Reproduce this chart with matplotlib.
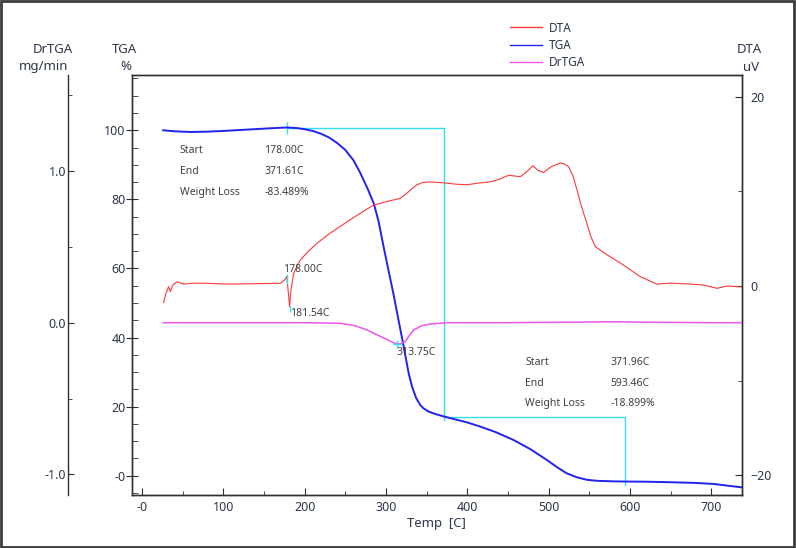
import matplotlib
matplotlib.use('Agg')
import matplotlib.pyplot as plt
from matplotlib.patches import Rectangle

plt.rcParams['font.family'] = ['Noto Sans', 'DejaVu Sans']

# TGA curve (%)
tga_temp = [26, 40, 60, 80, 100, 130, 160, 178, 190, 200, 210, 220, 230, 240, 250, 260, 268,
            277, 285, 291, 297, 303, 309, 315, 320, 324, 328, 332, 337, 342, 346, 352, 360,
            371.6, 385, 400, 416, 435, 457, 478, 498, 510, 522, 535, 547, 560, 580, 594, 620,
            650, 680, 703, 720, 738]
tga_val = [100.0, 99.7, 99.5, 99.6, 99.8, 100.2, 100.6, 100.8, 100.65, 100.3, 99.8, 99.0,
           97.9, 96.3, 94.3, 91.3, 87.8, 83.3, 78.8, 73.5, 66.3, 59.5, 52.8, 45.5, 39.5, 34.5,
           29.5, 25.8, 22.5, 20.5, 19.5, 18.6, 17.9, 17.1, 16.3, 15.4, 14.2, 12.6, 10.3, 7.6,
           4.5, 2.5, 0.7, -0.5, -1.2, -1.5, -1.65, -1.7, -1.75, -1.9, -2.1, -2.4, -2.9, -3.4]

# DTA curve (uV)
dta_temp = [26.6, 29, 32.7, 34.8, 38, 43, 51, 65, 80, 100, 121, 145, 170, 175, 178, 180, 181.5,
            183, 186.4, 190, 194.6, 205, 215, 230, 243.8, 265, 284.8, 300, 317.6, 325.8, 332,
            338, 346, 354.5, 370.8, 387, 399.6, 416, 428, 440, 450.8, 465, 472, 480.7, 487,
            493.8, 503, 514.3, 519, 524.6, 530, 534.8, 540, 547, 552, 557.4, 571.7, 592,
            612.7, 633, 650, 674, 690, 707, 720, 735.6]
dta_val = [-1.76, -0.9, -0.07, -0.6, 0.1, 0.45, 0.2, 0.3, 0.28, 0.2, 0.21, 0.25, 0.28, 0.6,
           1.0, -0.8, -2.2, -0.5, 1.3, 2.0, 2.75, 3.7, 4.5, 5.5, 6.3, 7.5, 8.56, 8.9, 9.27,
           9.8, 10.3, 10.7, 10.95, 11.0, 10.9, 10.75, 10.7, 10.9, 11.0, 11.3, 11.7, 11.55,
           12.0, 12.7, 12.2, 12.0, 12.6, 13.0, 12.9, 12.6, 11.6, 10.15, 8.5, 6.6, 5.2, 4.15,
           3.3, 2.2, 0.98, 0.2, 0.3, 0.2, 0.1, -0.25, 0.0, -0.1]

# DrTGA curve (mg/min)
dr_temp = [26, 100, 200, 244, 262, 276.7, 293, 301, 308, 313.75, 318, 323.7, 328, 334, 344,
           354.5, 375, 450, 520, 580, 620, 700, 738]
dr_val = [0.0, 0.0, 0.0, -0.004, -0.02, -0.048, -0.09, -0.11, -0.13, -0.14, -0.138, -0.125,
          -0.09, -0.048, -0.02, -0.009, 0.0, 0.0, 0.003, 0.006, 0.003, 0.0, 0.0]

# weight loss steps
step1_temp = [178.0, 371.61, 371.61]
step1_tga = [100.55, 100.55, 16.1]
step2_temp = [371.96, 593.46, 593.46]
step2_tga = [17.1, 17.1, -2.7]

W, H = 796, 548
tick_col = '#2d3648'
text_col = '#404040'
spine_col = '#303030'

fig = plt.figure(figsize=(W / 100, H / 100), dpi=100)
ax = fig.add_axes([132 / W, 1 - 495 / H, 610 / W, 420 / H])
ax_dta = ax.twinx()
ax_dr = ax.twinx()

l_tga, = ax.plot(tga_temp, tga_val, color='#2222ee', lw=1.4, zorder=3)
ax.plot(step1_temp, step1_tga, color='#33e0f0', lw=1.0)
ax.plot(step2_temp, step2_tga, color='#33e0f0', lw=1.0)
ax.plot([178], [100.8], marker='|', ms=8, color='#33e0f0', mew=1)

l_dta, = ax_dta.plot(dta_temp, dta_val, color='#ff3838', lw=0.8)
ax_dta.plot([178], [0.74], marker='|', ms=7, color='#33e0f0', mew=1)
ax_dta.plot([181.54], [-2.4], marker='|', ms=4, color='#33e0f0', mew=1)

l_dr, = ax_dr.plot(dr_temp, dr_val, color='#ee55ee', lw=1.1)
ax_dr.plot([313.75], [-0.14], marker='+', ms=6, color='#33e0f0', mew=1)

ax.set_xlim(-12.3, 737.7)
ax.set_ylim(-5.6, 116)
ax_dta.set_ylim(-22.1, 22.3)
ax_dr.set_ylim(-1.136, 1.633)

# x axis
ax.set_xticks([0, 100, 200, 300, 400, 500, 600, 700])
ax.set_xticklabels(['-0', '100', '200', '300', '400', '500', '600', '700'])
ax.set_xticks(range(50, 750, 100), minor=True)
ax.tick_params(axis='x', which='major', direction='in', length=5, pad=4, labelsize=9,
               colors=spine_col, labelcolor=tick_col)
ax.tick_params(axis='x', which='minor', direction='in', length=3, colors=spine_col)

# TGA axis
ax.set_yticks([0, 20, 40, 60, 80, 100])
ax.set_yticklabels(['-0', '20', '40', '60', '80', '100'])
ax.set_yticks([-5, 5, 10, 15, 25, 30, 35, 45, 50, 55, 65, 70, 75, 85, 90, 95, 105, 110, 115],
              minor=True)
ax.tick_params(axis='y', which='major', direction='inout', length=9, pad=0, labelsize=9,
               colors=spine_col, labelcolor=tick_col)
ax.tick_params(axis='y', which='minor', direction='in', length=4, colors=spine_col)

# DTA axis
ax_dta.set_yticks([-20, 0, 20])
ax_dta.set_yticks([-10, 10], minor=True)
ax_dta.tick_params(axis='y', which='major', direction='in', length=5, pad=6, labelsize=9,
                   colors=spine_col, labelcolor=tick_col)
ax_dta.tick_params(axis='y', which='minor', direction='in', length=3, colors=spine_col)

# DrTGA axis
ax_dr.yaxis.set_ticks_position('left')
ax_dr.spines['left'].set_position(('axes', (67.7 - 132) / 610))
for s in ['right', 'top', 'bottom']:
    ax_dr.spines[s].set_visible(False)
ax_dr.set_yticks([-1.0, 0.0, 1.0])
ax_dr.set_yticklabels(['-1.0', '0.0', '1.0'])
ax_dr.set_yticks([-0.5, 0.5, 1.5], minor=True)
ax_dr.tick_params(axis='y', which='major', direction='in', length=4, pad=1, labelsize=9,
                  colors=spine_col, labelcolor=tick_col)
ax_dr.tick_params(axis='y', which='minor', direction='in', length=3, colors=spine_col)

for a in [ax, ax_dta, ax_dr]:
    for s in a.spines.values():
        s.set_color(spine_col)
        s.set_linewidth(1.0)

# weight loss text blocks
ax.text(46.2, 94.1, 'Start', fontsize=7.5, color=text_col, va='center')
ax.text(150.4, 94.1, '178.00C', fontsize=7.5, color=text_col, va='center')
ax.text(46.2, 88.2, 'End', fontsize=7.5, color=text_col, va='center')
ax.text(150.4, 88.2, '371.61C', fontsize=7.5, color=text_col, va='center')
ax.text(46.2, 82.0, 'Weight Loss', fontsize=7.5, color=text_col, va='center')
ax.text(150.4, 82.0, '-83.489%', fontsize=7.5, color=text_col, va='center')

ax.text(471.3, 32.7, 'Start', fontsize=7.5, color=text_col, va='center')
ax.text(575.8, 32.7, '371.96C', fontsize=7.5, color=text_col, va='center')
ax.text(471.3, 26.7, 'End', fontsize=7.5, color=text_col, va='center')
ax.text(575.8, 26.7, '593.46C', fontsize=7.5, color=text_col, va='center')
ax.text(471.3, 20.75, 'Weight Loss', fontsize=7.5, color=text_col, va='center')
ax.text(575.8, 20.75, '-18.899%', fontsize=7.5, color=text_col, va='center')

# peak labels
ax_dta.text(173.4, 1.69, '178.00C', fontsize=7.5, color=text_col, va='center')
ax_dta.text(182.3, -2.89, '181.54C', fontsize=7.5, color=text_col, va='center')
ax_dr.text(312.7, -0.198, '313.75C', fontsize=7.5, color=text_col, va='center')

# axis titles
fig.text(53 / W, 1 - 49.3 / H, 'DrTGA', fontsize=9.5, color=tick_col, ha='center', va='center')
fig.text(43.5 / W, 1 - 66.7 / H, 'mg/min', fontsize=9.5, color=tick_col, ha='center', va='center')
fig.text(124 / W, 1 - 49.3 / H, 'TGA', fontsize=9.5, color=tick_col, ha='center', va='center')
fig.text(126 / W, 1 - 66.7 / H, '%', fontsize=9.5, color=tick_col, ha='center', va='center')
fig.text(749.5 / W, 1 - 49.3 / H, 'DTA', fontsize=9.5, color=tick_col, ha='center', va='center')
fig.text(751.5 / W, 1 - 67.3 / H, 'uV', fontsize=9.5, color=tick_col, ha='center', va='center')
fig.text(436.5 / W, 1 - 523 / H, 'Temp  [C]', fontsize=9.5, color=tick_col, ha='center', va='center')

leg = fig.legend([l_dta, l_tga, l_dr], ['DTA', 'TGA', 'DrTGA'], loc='upper left',
                 bbox_to_anchor=(510 / W, 1 - 21.5 / H), frameon=False, fontsize=8.5,
                 handlelength=2.7, handletextpad=0.6, labelspacing=0.35, borderpad=0,
                 borderaxespad=0, labelcolor=tick_col)
for line in leg.get_lines():
    line.set_linewidth(1.0)

fig.patches.append(Rectangle((0.001, 0.002), 0.997, 0.996, transform=fig.transFigure,
                             fill=False, ec='#3c3c3c', lw=2))

fig.savefig('out.png', dpi=100)
